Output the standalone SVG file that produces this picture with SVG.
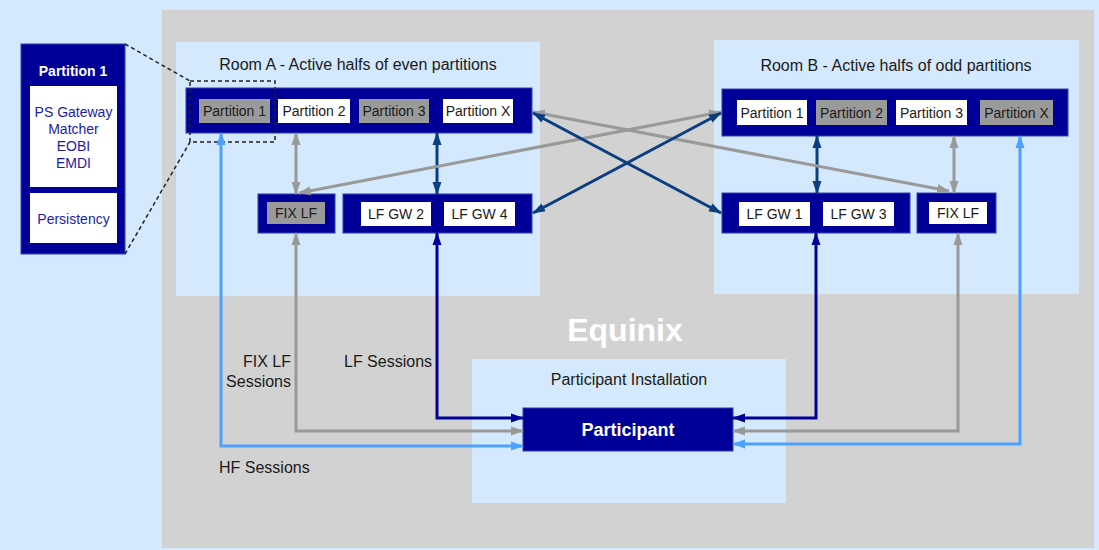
<svg xmlns="http://www.w3.org/2000/svg" width="1099" height="550" viewBox="0 0 1099 550">
<style>
text{font-family:"Liberation Sans",Arial,sans-serif;fill:#1a1a1a}
.t16{font-size:16px}
.t14{font-size:14px}
.mid{text-anchor:middle}
.bar{fill:#000099;stroke:#3040b0;stroke-width:1}
.wbox{fill:#ffffff}
.gbox{fill:#9a9a9a}
.room{fill:#d4e9fd}
.c{fill:none;stroke-width:3}
.navy{stroke:#0b3e7e}
.dblue{stroke:#000099}
.gray{stroke:#999999}
.lblue{stroke:#4ca1ff}
.ins{fill:#1c1ca8;font-size:14px;text-anchor:middle}
</style>
<defs>
<marker id="aNavy" markerUnits="userSpaceOnUse" markerWidth="13" markerHeight="10" refX="12" refY="5" orient="auto-start-reverse"><path d="M0,0.5 L13,5 L0,9.5 z" fill="#0b3e7e"/></marker>
<marker id="aDblue" markerUnits="userSpaceOnUse" markerWidth="13" markerHeight="10" refX="12" refY="5" orient="auto-start-reverse"><path d="M0,0.5 L13,5 L0,9.5 z" fill="#000099"/></marker>
<marker id="aGray" markerUnits="userSpaceOnUse" markerWidth="13" markerHeight="10" refX="12" refY="5" orient="auto-start-reverse"><path d="M0,0.5 L13,5 L0,9.5 z" fill="#999999"/></marker>
<marker id="aLblue" markerUnits="userSpaceOnUse" markerWidth="13" markerHeight="10" refX="12" refY="5" orient="auto-start-reverse"><path d="M0,0.5 L13,5 L0,9.5 z" fill="#4ca1ff"/></marker>
</defs>
<rect x="0" y="0" width="1099" height="550" fill="#d4e9fd"/>
<g id="equinix">
<rect x="162" y="10" width="932" height="538" fill="#d2d2d2"/>
<text x="625" y="341" class="mid" style="font-size:32px;font-weight:bold;fill:#ffffff">Equinix</text>
</g>
<g id="roomA">
<rect class="room" x="176" y="42" width="364" height="254"/>
<text class="t16 mid" x="358" y="70">Room A - Active halfs of even partitions</text>
</g>
<g id="roomB">
<rect class="room" x="714" y="40" width="365" height="254"/>
<text class="t16 mid" x="896" y="71">Room B - Active halfs of odd partitions</text>
</g>
<g id="participantInstallation">
<rect class="room" x="472" y="359" width="314" height="144"/>
<text class="t16 mid" x="629" y="385">Participant Installation</text>
</g>
<g id="roomA-partitions">
<rect class="bar" x="186" y="88" width="346" height="45"/>
<rect class="gbox" x="199" y="99" width="71" height="24"/>
<text class="t14 mid" x="234.5" y="116">Partition 1</text>
<rect class="wbox" x="278" y="99" width="72" height="24"/>
<text class="t14 mid" x="314" y="116">Partition 2</text>
<rect class="gbox" x="359" y="99" width="70" height="24"/>
<text class="t14 mid" x="394" y="116">Partition 3</text>
<rect class="wbox" x="443" y="99" width="70" height="24"/>
<text class="t14 mid" x="478" y="116">Partition X</text>
</g>
<g id="roomA-fixlf">
<rect class="bar" x="258" y="194" width="77" height="39"/>
<rect class="gbox" x="267" y="202" width="58" height="22"/>
<text class="t14 mid" x="296" y="218">FIX LF</text>
</g>
<g id="roomA-lfgw">
<rect class="bar" x="343" y="194" width="189" height="39"/>
<rect class="wbox" x="361" y="202" width="70" height="24"/>
<text class="t14 mid" x="396" y="219">LF GW 2</text>
<rect class="wbox" x="444" y="202" width="71" height="24"/>
<text class="t14 mid" x="479.5" y="219">LF GW 4</text>
</g>
<g id="roomB-partitions">
<rect class="bar" x="722" y="89" width="346" height="47"/>
<rect class="wbox" x="737" y="100" width="70" height="25"/>
<text class="t14 mid" x="772" y="117.5">Partition 1</text>
<rect class="gbox" x="816" y="100" width="71" height="25"/>
<text class="t14 mid" x="851.5" y="117.5">Partition 2</text>
<rect class="wbox" x="896" y="100" width="71" height="25"/>
<text class="t14 mid" x="931.5" y="117.5">Partition 3</text>
<rect class="gbox" x="980" y="100" width="73" height="25"/>
<text class="t14 mid" x="1016.5" y="117.5">Partition X</text>
</g>
<g id="roomB-lfgw">
<rect class="bar" x="722" y="193" width="188" height="40"/>
<rect class="wbox" x="739" y="202" width="71" height="24"/>
<text class="t14 mid" x="774.5" y="219">LF GW 1</text>
<rect class="wbox" x="823" y="202" width="71" height="24"/>
<text class="t14 mid" x="858.5" y="219">LF GW 3</text>
</g>
<g id="roomB-fixlf">
<rect class="bar" x="917" y="193" width="79" height="40"/>
<rect class="wbox" x="929" y="202" width="58" height="22"/>
<text class="t14 mid" x="958" y="218">FIX LF</text>
</g>
<g id="participant">
<rect class="bar" x="523" y="408" width="210" height="43"/>
<text x="628" y="436" class="mid" style="font-size:18px;font-weight:bold;fill:#ffffff">Participant</text>
</g>
<g id="partition1-detail">
<rect class="bar" x="21" y="44" width="104" height="210"/>
<text x="73" y="76" class="mid" style="font-size:14px;font-weight:bold;fill:#ffffff">Partition 1</text>
<rect class="wbox" x="30" y="86" width="87" height="101"/>
<text class="ins" x="73.5" y="117">PS Gateway</text>
<text class="ins" x="73.5" y="134">Matcher</text>
<text class="ins" x="73.5" y="151">EOBI</text>
<text class="ins" x="73.5" y="168">EMDI</text>
<rect class="wbox" x="30" y="193" width="87" height="50"/>
<text class="ins" x="73.5" y="224">Persistency</text>
</g>
<g id="zoom-callout" fill="none" stroke="#222222" stroke-width="1.5" stroke-dasharray="4,3">
<rect x="190" y="81" width="85" height="61"/>
<line x1="125" y1="44" x2="190" y2="81"/>
<line x1="125" y1="254" x2="190" y2="142"/>
</g>
<g id="connectors">
<line class="c gray" x1="296" y1="133" x2="296" y2="194" marker-start="url(#aGray)" marker-end="url(#aGray)"/>
<line class="c navy" x1="437" y1="133" x2="437" y2="194" marker-start="url(#aNavy)" marker-end="url(#aNavy)"/>
<line class="c navy" x1="817" y1="136" x2="817" y2="193" marker-start="url(#aNavy)" marker-end="url(#aNavy)"/>
<line class="c gray" x1="954" y1="136" x2="954" y2="193" marker-start="url(#aGray)" marker-end="url(#aGray)"/>
<line class="c gray" x1="299" y1="193" x2="721" y2="112" marker-start="url(#aGray)" marker-end="url(#aGray)"/>
<line class="c gray" x1="533" y1="112" x2="949" y2="191" marker-start="url(#aGray)" marker-end="url(#aGray)"/>
<line class="c navy" x1="533" y1="113" x2="721" y2="213" marker-start="url(#aNavy)" marker-end="url(#aNavy)"/>
<line class="c navy" x1="533" y1="213" x2="721" y2="113" marker-start="url(#aNavy)" marker-end="url(#aNavy)"/>
<path class="c lblue" d="M221,133 V446 H523" marker-start="url(#aLblue)" marker-end="url(#aLblue)"/>
<path class="c gray" d="M296,233 V431 H523" marker-start="url(#aGray)" marker-end="url(#aGray)"/>
<path class="c dblue" d="M437,233 V418 H523" marker-start="url(#aDblue)" marker-end="url(#aDblue)"/>
<path class="c dblue" d="M816,233 V418 H733" marker-start="url(#aDblue)" marker-end="url(#aDblue)"/>
<path class="c gray" d="M958,233 V431 H733" marker-start="url(#aGray)" marker-end="url(#aGray)"/>
<path class="c lblue" d="M1020,136 V444 H733" marker-start="url(#aLblue)" marker-end="url(#aLblue)"/>
</g>
<g id="labels">
<text class="t16" x="291" y="367" text-anchor="end">FIX LF</text>
<text class="t16" x="291" y="387" text-anchor="end">Sessions</text>
<text class="t16" x="344" y="367">LF Sessions</text>
<text class="t16" x="219" y="473">HF Sessions</text>
</g>
</svg>
